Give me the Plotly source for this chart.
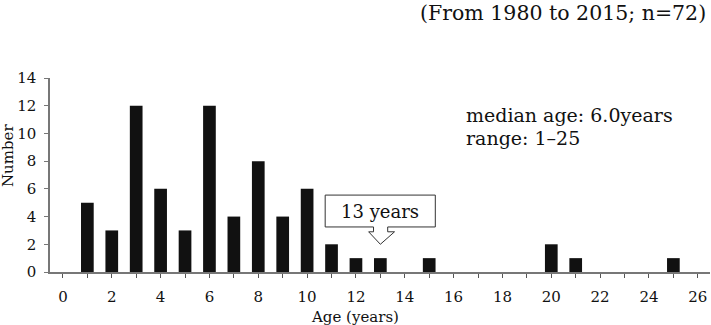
import plotly.graph_objects as go

ages = [1, 2, 3, 4, 5, 6, 7, 8, 9, 10, 11, 12, 13, 15, 20, 21, 25]
counts = [5, 3, 12, 6, 3, 12, 4, 8, 4, 6, 2, 1, 1, 1, 2, 1, 1]
x_tickvals = list(range(0, 27, 2))
y_tickvals = list(range(0, 15, 2))

FONT = "DejaVu Serif"
W, H = 711, 325
PL, PR, PT, PB = 50, 710, 78, 272  # plot area in window pixels


def px(xw):
    return (xw - PL) / (PR - PL)


def py(yw):
    return (PB - yw) / (PB - PT)


fig = go.Figure()
fig.add_trace(go.Bar(x=ages, y=counts, width=0.52, marker=dict(color="#111111", line=dict(width=0))))

fig.update_layout(
    width=W, height=H,
    margin=dict(l=PL, r=W - PR, t=PT, b=H - PB),
    paper_bgcolor="white", plot_bgcolor="white",
    showlegend=False,
    font=dict(family=FONT, size=15, color="#111"),
)
fig.update_xaxes(
    range=[-0.53, 26.5], tickvals=x_tickvals, ticks="outside", ticklen=4, tickcolor="#555",
    ticklabelstandoff=6, showline=True,
    linecolor="#777", linewidth=1.5, showgrid=False, zeroline=False,
    tickfont=dict(size=15),
    minor=dict(ticks="outside", dtick=1, tick0=0, ticklen=4, tickcolor="#555", showgrid=False),
)
fig.update_yaxes(
    range=[0, 14], tickvals=y_tickvals, ticks="outside", ticklen=4, tickcolor="#777",
    ticklabelstandoff=5,
    showline=True, linecolor="#777", linewidth=1.5, showgrid=False, zeroline=False,
    tickfont=dict(size=15),
)

# Axis titles
fig.add_annotation(text="Age (years)", xref="paper", yref="paper", x=px(355), y=py(317),
                   showarrow=False, font=dict(size=15), xanchor="center", yanchor="middle")
fig.add_annotation(text="Number", xref="paper", yref="paper", x=px(8), y=py(156), textangle=-90,
                   showarrow=False, font=dict(size=15), xanchor="center", yanchor="middle")

# Top note
fig.add_annotation(text="(From 1980 to 2015; n=72)", xref="paper", yref="paper", x=px(708), y=py(13),
                   showarrow=False, font=dict(size=20.5), xanchor="right", yanchor="middle")

# Stats text
fig.add_annotation(text="median age: 6.0years", xref="paper", yref="paper",
                   x=px(464), y=py(115), align="left",
                   showarrow=False, font=dict(size=19), xanchor="left", yanchor="middle")
fig.add_annotation(text="range: 1–25", xref="paper", yref="paper",
                   x=px(464), y=py(138), align="left",
                   showarrow=False, font=dict(size=19), xanchor="left", yanchor="middle")

# Callout box with outlined arrow pointing at age 13
bx0, bx1, by0, by1 = 10.74, 15.25, 3.25, 5.55
sx0, sx1, hx0, hx1, tipx = 12.72, 13.3, 12.52, 13.58, 13.0
sy, tipy = 2.9, 2.0
path = (f"M {bx0},{by0} L {sx0},{by0} L {sx0},{sy} L {hx0},{sy} L {tipx},{tipy} "
        f"L {hx1},{sy} L {sx1},{sy} L {sx1},{by0} L {bx1},{by0} L {bx1},{by1} L {bx0},{by1} Z")
fig.add_shape(type="path", path=path, xref="x", yref="y", line=dict(color="#333", width=1), fillcolor="white")
fig.add_annotation(text="13 years", x=(bx0 + bx1) / 2, y=(by0 + by1) / 2, xref="x", yref="y",
                   showarrow=False, font=dict(size=18), xanchor="center", yanchor="middle")

fig.write_html("out.html", config={"displayModeBar": False},
               post_script="document.body.style.margin='0';document.body.style.padding='0';")
